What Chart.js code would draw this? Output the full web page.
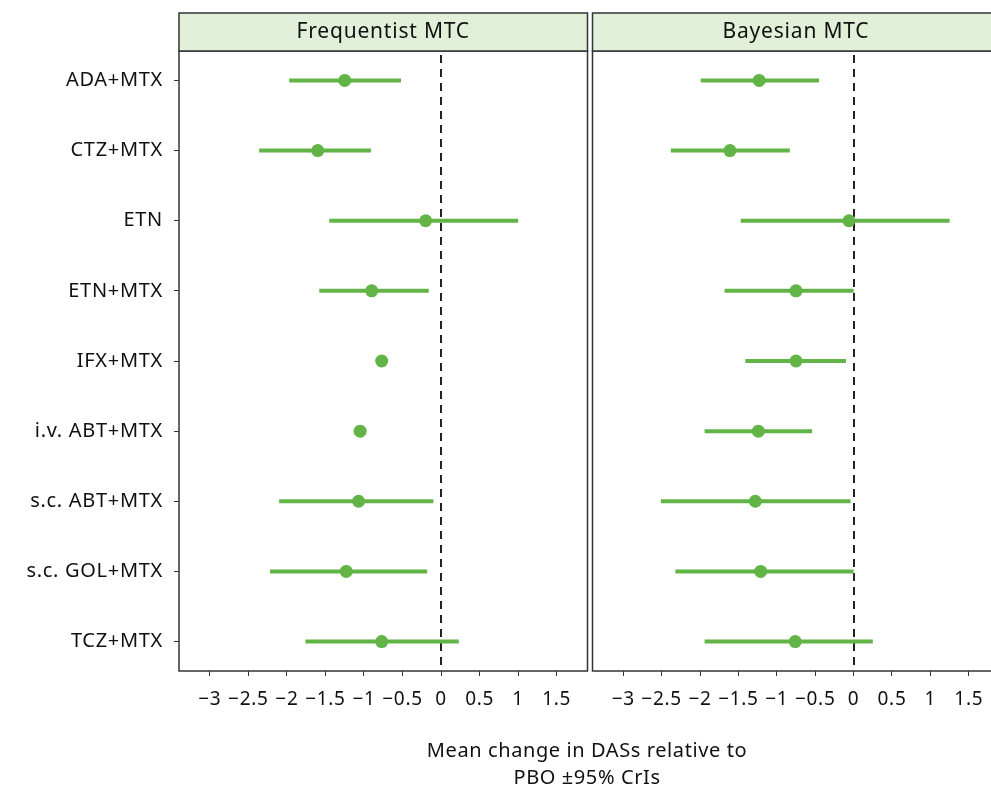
<!DOCTYPE html>
<html>
<head>
<meta charset="utf-8">
<script src="https://cdn.jsdelivr.net/npm/chart.js@4"></script>
<style>
  html, body { margin: 0; padding: 0; background: #fff; overflow: hidden; }
  #wrap { position: relative; width: 991px; height: 787px; overflow: hidden; }
  canvas { position: absolute; top: 0; }
  #xtitle {
    position: absolute; left: 337px; width: 500px; top: 737px;
    text-align: center; font: 20px "Noto Sans", sans-serif; line-height: 26.7px;
    color: #111; letter-spacing: 0.6px;
  }
</style>
</head>
<body>
<div id="wrap">
  <canvas id="chartFreq" width="594" height="787" style="left:0"></canvas>
  <canvas id="chartBayes" width="420" height="787" style="left:586px"></canvas>
  <div id="xtitle">Mean change in DASs relative to<br>PBO ±95% CrIs</div>
</div>
<script>
const categories = ['ADA+MTX', 'CTZ+MTX', 'ETN', 'ETN+MTX', 'IFX+MTX', 'i.v. ABT+MTX', 's.c. ABT+MTX', 's.c. GOL+MTX', 'TCZ+MTX'];

const freqMean = [-1.25, -1.60, -0.20, -0.90, -0.77, -1.05, -1.07, -1.23, -0.77];
const freqLow = [-1.97, -2.36, -1.45, -1.58, null, null, -2.10, -2.22, -1.76];
const freqHigh = [-0.52, -0.91, 1.00, -0.16, null, null, -0.10, -0.18, 0.23];

const bayesMean = [-1.23, -1.61, -0.06, -0.75, -0.75, -1.24, -1.28, -1.21, -0.76];
const bayesLow = [-1.99, -2.38, -1.47, -1.68, -1.41, -1.94, -2.51, -2.32, -1.94];
const bayesHigh = [-0.45, -0.83, 1.25, 0.00, -0.10, -0.54, -0.04, 0.00, 0.25];

const xTicks = [-3, -2.5, -2, -1.5, -1, -0.5, 0, 0.5, 1, 1.5];

const green = 'rgb(98, 180, 70)';
const FONT = '"Noto Sans", sans-serif';

// strip, CI lines, dashed zero line and the panel frame
const forestPlugin = {
  id: 'forest',
  beforeDraw(chart) {
    chart.ctx.letterSpacing = '0.7px';
  },
  beforeDatasetsDraw(chart) {
    const { ctx, chartArea, scales } = chart;
    const opts = chart.options.plugins.forest;
    ctx.save();
    // zero line
    ctx.strokeStyle = '#222';
    ctx.lineWidth = 2;
    ctx.setLineDash([8, 6]);
    const x0 = Math.round(scales.x.getPixelForValue(0));
    ctx.beginPath();
    ctx.moveTo(x0, chartArea.top + 4);
    ctx.lineTo(x0, chartArea.bottom - 4);
    ctx.stroke();
    ctx.setLineDash([]);
    // intervals
    ctx.strokeStyle = green;
    ctx.lineWidth = 4;
    ctx.lineCap = 'butt';
    opts.low.forEach((lo, i) => {
      const hi = opts.high[i];
      if (lo === null || hi === null) return;
      const y = scales.y.getPixelForValue(i + 1);
      ctx.beginPath();
      ctx.moveTo(scales.x.getPixelForValue(lo), y);
      ctx.lineTo(scales.x.getPixelForValue(hi), y);
      ctx.stroke();
    });
    ctx.restore();
  },
  afterDraw(chart) {
    const { ctx, chartArea } = chart;
    const opts = chart.options.plugins.forest;
    const w = chartArea.right - chartArea.left;
    ctx.save();
    ctx.strokeStyle = '#333';
    ctx.lineWidth = 1.5;
    ctx.strokeRect(chartArea.left, chartArea.top, w, chartArea.bottom - chartArea.top);
    ctx.fillStyle = '#e2f0da';
    ctx.fillRect(chartArea.left, 13, w, chartArea.top - 13);
    ctx.strokeRect(chartArea.left, 13, w, chartArea.top - 13);
    ctx.fillStyle = '#111';
    ctx.font = '21px ' + FONT;
    ctx.letterSpacing = '0.8px';
    ctx.textAlign = 'center';
    ctx.textBaseline = 'middle';
    ctx.fillText(opts.title, chartArea.left + w / 2, 32);
    ctx.restore();
  }
};

function makePanel(id, title, means, lows, highs, showY) {
  const config = {
    type: 'scatter',
    data: {
      datasets: [{
        data: means.map((m, i) => ({ x: m, y: i + 1 })),
        backgroundColor: green,
        borderWidth: 0,
        pointRadius: 6.5,
      }],
    },
    options: {
      responsive: false,
      animation: false,
      layout: { padding: { top: 51, left: showY ? 0 : 2, right: showY ? 3 : 2, bottom: 0 } },
      plugins: {
        legend: { display: false },
        tooltip: { enabled: false },
        forest: { title: title, low: lows, high: highs },
      },
      scales: {
        x: {
          type: 'linear',
          min: -3.4,
          max: 1.9,
          afterBuildTicks: (s) => { s.ticks = xTicks.map((v) => ({ value: v })); },
          afterFit: (s) => { s.height = 116; },
          grid: { drawOnChartArea: false, drawTicks: true, tickLength: 5, color: '#333' },
          border: { display: false },
          ticks: {
            autoSkip: false,
            maxRotation: 0,
            padding: 12,
            color: '#111',
            font: { family: FONT, size: 19 },
            callback: (v) => String(v).replace('-', '\u2212'),
          },
        },
        y: {
          type: 'linear',
          reverse: true,
          min: 0.58,
          max: 9.42,
          afterBuildTicks: (s) => { s.ticks = categories.map((c, i) => ({ value: i + 1 })); },
          afterFit: (s) => { s.width = showY ? 179 : 0; },
          grid: { drawOnChartArea: false, drawTicks: showY, tickLength: 5, color: '#333' },
          border: { display: false },
          ticks: {
            display: showY,
            autoSkip: false,
            padding: 11,
            color: '#111',
            font: { family: FONT, size: 20 },
            callback: (v) => categories[v - 1],
          },
        },
      },
    },
    plugins: [forestPlugin],
  };
  return new Chart(document.getElementById(id), config);
}

var chartFreq = makePanel('chartFreq', 'Frequentist MTC', freqMean, freqLow, freqHigh, true);
var chartBayes = makePanel('chartBayes', 'Bayesian MTC', bayesMean, bayesLow, bayesHigh, false);
</script>
</body>
</html>
